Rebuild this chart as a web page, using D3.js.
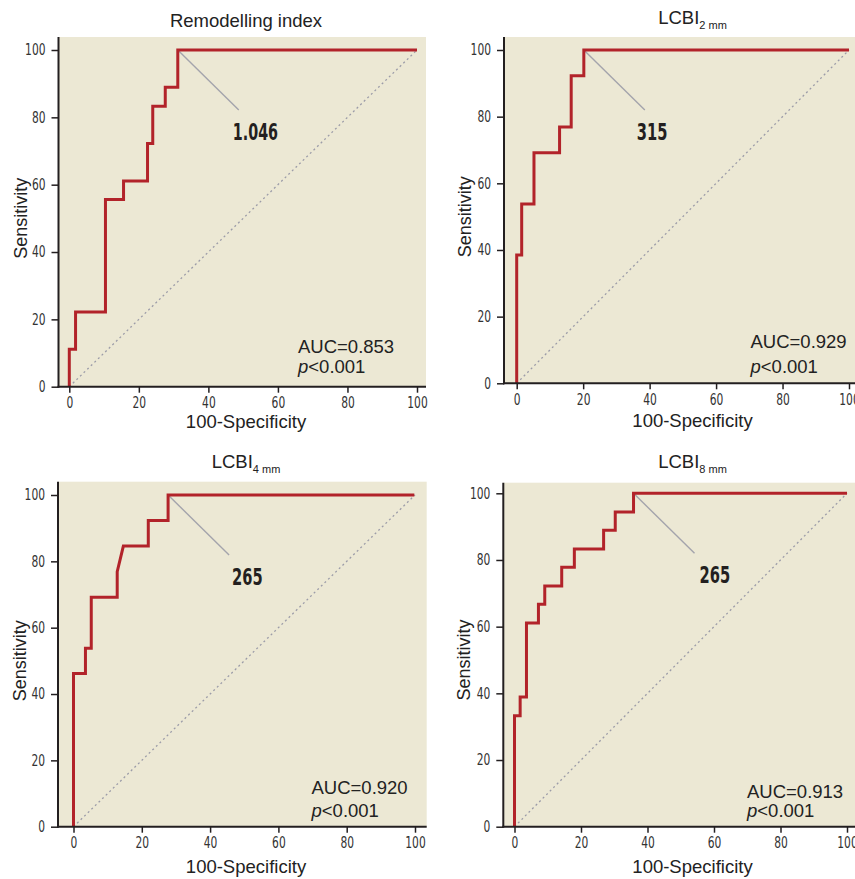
<!DOCTYPE html>
<html>
<head>
<meta charset="utf-8">
<script src="https://cdn.jsdelivr.net/npm/d3@7"></script>
<style>
  body { margin: 0; background: #fff; }
  svg { display: block; }
</style>
</head>
<body>
<div id="chart"></div>
<script>
// ROC curves, one per panel: vertices of each step line (100-specificity, sensitivity)
const titles = ["Remodelling index", "LCBI", "LCBI", "LCBI"];
const subscripts = ["", "2 mm", "4 mm", "8 mm"];
const aucValues = ["0.853", "0.929", "0.920", "0.913"];
const pValues = ["<0.001", "<0.001", "<0.001", "<0.001"];
const cutoffLabels = ["1.046", "315", "265", "265"];
const cutoffFpr = [31.2, 20.2, 27.7, 35.8];
const cutoffTpr = [100, 100, 100, 100];
const ticks = [0, 20, 40, 60, 80, 100];

const fpr1 = [0, 0, 1.8, 1.8, 10.4, 10.4, 15.6, 15.6, 22.5, 22.5, 24.0, 24.0, 27.6, 27.6, 31.2, 31.2, 100];
const tpr1 = [0, 11.1, 11.1, 22.2, 22.2, 55.6, 55.6, 61.1, 61.1, 72.2, 72.2, 83.3, 83.3, 88.9, 88.9, 100, 100];
const fpr2 = [0, 0, 1.5, 1.5, 5.2, 5.2, 12.9, 12.9, 16.4, 16.4, 20.2, 20.2, 100];
const tpr2 = [0, 38.5, 38.5, 53.8, 53.8, 69.2, 69.2, 76.9, 76.9, 92.3, 92.3, 100, 100];
const fpr3 = [0, 0, 3.5, 3.5, 5.2, 5.2, 12.8, 12.8, 14.6, 21.9, 21.9, 27.7, 27.7, 99.8];
const tpr3 = [0, 46.2, 46.2, 53.8, 53.8, 69.2, 69.2, 76.9, 84.6, 84.6, 92.3, 92.3, 100, 100];
const fpr4 = [0, 0, 1.7, 1.7, 3.6, 3.6, 7.2, 7.2, 9.1, 9.1, 14.2, 14.2, 18.0, 18.0, 26.8, 26.8, 30.3, 30.3, 35.8, 35.8, 100];
const tpr4 = [0, 33.3, 33.3, 38.9, 38.9, 61.1, 61.1, 66.7, 66.7, 72.2, 72.2, 77.8, 77.8, 83.3, 83.3, 88.9, 88.9, 94.4, 94.4, 100, 100];

const fprs = [fpr1, fpr2, fpr3, fpr4];
const tprs = [tpr1, tpr2, tpr3, tpr4];

//////////////////////////////////////////////////////////////
////////////////////// Panel layout //////////////////////////
//////////////////////////////////////////////////////////////

const layout = [
  { left: 58.5, right: 426, top: 37, x0: 69.3, x100: 417, y0: 386.7, y100: 50, midX: 246,
    titleY: 26.5, yLabelX: 26.5, xLabelY: 428, aucX: 298, aucY: 352.7, pY: 372.7, labDx: -6 },
  { left: 504, right: 870, top: 37, x0: 516.7, x100: 849, y0: 383.3, y100: 50, midX: 692.5,
    titleY: 24, yLabelX: 471, xLabelY: 427, aucX: 750.5, aucY: 348, pY: 372.7, labDx: -8 },
  { left: 58, right: 426.7, top: 481.7, x0: 73.5, x100: 415, y0: 826.7, y100: 495, midX: 246,
    titleY: 468.3, yLabelX: 26, xLabelY: 873.3, aucX: 311.5, aucY: 794, pY: 816.7, labDx: 3 },
  { left: 503.3, right: 870, top: 482.7, x0: 514.5, x100: 847, y0: 826.7, y100: 493.3, midX: 692.5,
    titleY: 468.3, yLabelX: 470, xLabelY: 873.3, aucX: 747, aucY: 797.7, pY: 817.3, labDx: 5 },
];

const sansFont = "'Liberation Sans', Arial, sans-serif";
const narrowFont = "'DejaVu Sans', sans-serif";
const ink = "#231f20";

const svg = d3
  .select("#chart")
  .append("svg")
  .attr("width", 855)
  .attr("height", 879);

layout.forEach((L, p) => {
  const x = d3.scaleLinear().domain([0, 100]).range([L.x0, L.x100]);
  const y = d3.scaleLinear().domain([0, 100]).range([L.y0, L.y100]);
  const g = svg.append("g").attr("class", "panel");

  //Background
  g.append("rect")
    .attr("x", L.left)
    .attr("y", L.top)
    .attr("width", L.right - L.left)
    .attr("height", L.y0 - L.top)
    .attr("fill", "#ece8d4");

  //Reference diagonal
  g.append("line")
    .attr("x1", x(0))
    .attr("y1", y(0))
    .attr("x2", x(100))
    .attr("y2", y(100))
    .attr("stroke", "#9c9ca8")
    .attr("stroke-width", 1.3)
    .attr("stroke-dasharray", "2,3");

  //Leader line to the cutoff label
  const cx = x(cutoffFpr[p]),
    cy = y(cutoffTpr[p]);
  g.append("line")
    .attr("x1", cx)
    .attr("y1", cy)
    .attr("x2", cx + 61)
    .attr("y2", cy + 60)
    .attr("stroke", "#a4a4ac")
    .attr("stroke-width", 1.4);

  //ROC curve
  const pts = fprs[p].map((f, i) => [f, tprs[p][i]]);
  const line = d3
    .line()
    .x((d) => x(d[0]))
    .y((d) => y(d[1]));
  g.append("path")
    .attr("d", line(pts))
    .attr("fill", "none")
    .attr("stroke", "#b2232a")
    .attr("stroke-width", 3)
    .attr("stroke-linejoin", "miter");

  //Axes
  const yAxis = g
    .append("g")
    .attr("transform", `translate(${L.left},0)`)
    .call(d3.axisLeft(y).tickValues(ticks).tickSize(7).tickPadding(6));
  const xAxis = g
    .append("g")
    .attr("transform", `translate(0,${L.y0})`)
    .call(d3.axisBottom(x).tickValues(ticks).tickSize(6).tickPadding(4.5));
  [yAxis, xAxis].forEach((a) => {
    a.select(".domain").remove();
    a.attr("font-family", narrowFont).attr("font-size", 15.5);
    a.selectAll(".tick line").attr("stroke", ink).attr("stroke-width", 1.5);
    //squeeze the digits to mimic the condensed face of the figure
    a.selectAll(".tick text")
      .attr("fill", "#333")
      .attr("textLength", (d) => String(d).length * 6.8)
      .attr("lengthAdjust", "spacingAndGlyphs");
  });

  //Axis lines
  g.append("line")
    .attr("x1", L.left)
    .attr("x2", L.left)
    .attr("y1", L.top)
    .attr("y2", L.y0 + 1)
    .attr("stroke", ink)
    .attr("stroke-width", 2);
  g.append("line")
    .attr("x1", L.left - 1)
    .attr("x2", L.right)
    .attr("y1", L.y0)
    .attr("y2", L.y0)
    .attr("stroke", ink)
    .attr("stroke-width", 2);

  //Title
  const t = g
    .append("text")
    .attr("x", L.midX)
    .attr("y", L.titleY)
    .attr("text-anchor", "middle")
    .attr("font-family", sansFont)
    .attr("font-size", 18.5)
    .attr("fill", "#222")
    .text(titles[p]);
  if (subscripts[p]) {
    t.append("tspan")
      .attr("font-size", 11)
      .attr("dy", 5)
      .text(subscripts[p]);
  }

  //Axis titles
  g.append("text")
    .attr("transform", `translate(${L.yLabelX},${(L.y0 + L.y100) / 2}) rotate(-90)`)
    .attr("text-anchor", "middle")
    .attr("font-family", sansFont)
    .attr("font-size", 18)
    .attr("fill", "#222")
    .text("Sensitivity");
  g.append("text")
    .attr("x", L.midX)
    .attr("y", L.xLabelY)
    .attr("text-anchor", "middle")
    .attr("font-family", sansFont)
    .attr("font-size", 18.5)
    .attr("fill", "#222")
    .text("100-Specificity");

  //AUC and p value
  g.append("text")
    .attr("x", L.aucX)
    .attr("y", L.aucY)
    .attr("font-family", sansFont)
    .attr("font-size", 18.5)
    .attr("fill", "#222")
    .text("AUC=" + aucValues[p]);
  const pt = g
    .append("text")
    .attr("x", L.aucX)
    .attr("y", L.pY)
    .attr("font-family", sansFont)
    .attr("font-size", 18.5)
    .attr("fill", "#222");
  pt.append("tspan").attr("font-style", "italic").text("p");
  pt.append("tspan").text(pValues[p]);

  //Cutoff label
  const lab = cutoffLabels[p];
  g.append("text")
    .attr("x", cx + 61 + L.labDx)
    .attr("y", cy + 60 + 29.5)
    .attr("font-family", narrowFont)
    .attr("font-weight", "bold")
    .attr("font-size", 23)
    .attr("fill", "#231f20")
    .attr("textLength", lab.replace(".", "").length * 10.2 + (lab.includes(".") ? 4.5 : 0))
    .attr("lengthAdjust", "spacingAndGlyphs")
    .text(lab);
});
</script>
</body>
</html>
